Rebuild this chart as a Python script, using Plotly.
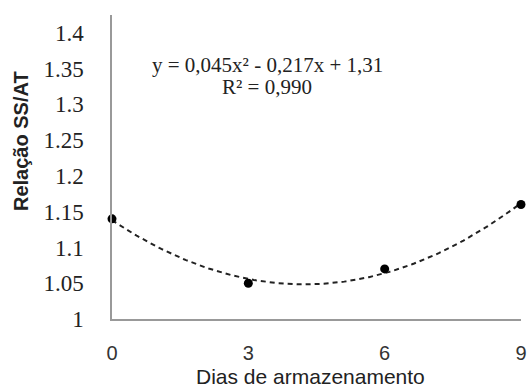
import numpy as np
import plotly.graph_objects as go

# Data
dias = [0, 3, 6, 9]
relacao = [1.14, 1.05, 1.07, 1.16]
x_ticks = [0, 3, 6, 9]
y_ticks = [1, 1.05, 1.1, 1.15, 1.2, 1.25, 1.3, 1.35, 1.4]
y_tick_labels = ["1", "1.05", "1.1", "1.15", "1.2", "1.25", "1.3", "1.35", "1.4"]
equation = "y = 0,045x² - 0,217x + 1,31"
r2_text = "R² = 0,990"

# Quadratic trendline fitted on period index (1..4), as in the spreadsheet
idx = np.arange(1, len(dias) + 1)
coef = np.polyfit(idx, relacao, 2)
t_fine = np.linspace(1, len(dias), 200)
x_fine = (t_fine - 1) * (dias[1] - dias[0]) + dias[0]
y_fine = np.polyval(coef, t_fine)

SERIF = "Liberation Serif"
SANS = "Liberation Sans"

fig = go.Figure()
fig.add_trace(go.Scatter(x=x_fine, y=y_fine, mode="lines",
                         line=dict(color="#222", width=2, dash="5px,4px"),
                         hoverinfo="skip", cliponaxis=False))
fig.add_trace(go.Scatter(x=dias, y=relacao, mode="markers",
                         marker=dict(color="#000", size=9),
                         cliponaxis=False))

L, R, T, B = 112, 6, 15, 70
W, H = 527, 389

fig.update_layout(
    width=W, height=H,
    margin=dict(l=L, r=R, t=T, b=B, autoexpand=False),
    paper_bgcolor="white", plot_bgcolor="white",
    showlegend=False,
    xaxis=dict(range=[0, 9], tickvals=x_ticks, ticktext=[str(v) for v in x_ticks],
               showgrid=False, zeroline=False, showline=True, linecolor="#999",
               linewidth=1.5, ticks="", ticklabelstandoff=15, automargin=False,
               tickfont=dict(family=SANS, size=20, color="#333")),
    yaxis=dict(range=[1, 1.425], tickvals=y_ticks, ticktext=y_tick_labels,
               showgrid=False, zeroline=False, showline=True, linecolor="#999",
               linewidth=1.5, ticks="", ticklabelstandoff=22, automargin=False,
               tickfont=dict(family=SERIF, size=23, color="#222")),
)

pw, ph = W - L - R, H - T - B


def px(xp, yp):
    return (xp - L) / pw, (H - yp - B) / ph


anns = [
    (equation, 267, 65, SERIF, 21, 0),
    (r2_text, 267, 87, SERIF, 21, 0),
    ("Dias de armazenamento", 310, 376, SANS, 21, 0),
    ("<b>Relação SS/AT</b>", 21, 141, SANS, 20, -90),
]
for text, xp, yp, fam, size, ang in anns:
    ax, ay = px(xp, yp)
    fig.add_annotation(text=text, x=ax, y=ay, xref="paper", yref="paper",
                       showarrow=False, textangle=ang,
                       font=dict(family=fam, size=size, color="#222"),
                       xanchor="center", yanchor="middle")

fig.write_html("out.html")
